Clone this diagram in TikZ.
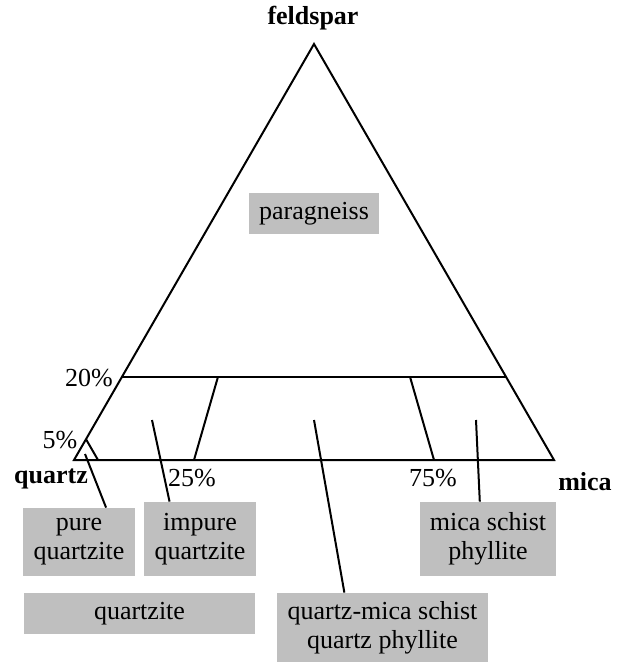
\documentclass[tikz,border=0pt]{standalone}
\usepackage{fontspec}
\setmainfont{Liberation Serif}
\usetikzlibrary{calc,positioning}
\definecolor{rockgray}{RGB}{191,191,191}
\tikzset{
  rockbox/.style={fill=rockgray, align=center, inner sep=0pt, font=\fontsize{13}{14.5}\selectfont},
  edge/.style={line width=1pt},
  corner/.style={font=\fontsize{13}{15}\selectfont\bfseries},
  pct/.style={font=\fontsize{13}{15}\selectfont}
}

\begin{document}
\begin{tikzpicture}[x=0.5pt,y=-0.5pt]
    \useasboundingbox (0,0) rectangle (627,663);

    % Corners
    \coordinate (qz) at (74,460);
    \coordinate (mc) at (554,460);
    \coordinate (fs) at (314,44);
    \node[corner] (feldspar) at (313,18) {feldspar};
    \node[corner] (quartz) at (51,479) {quartz};
    \node[corner] (mica) at (585,482) {mica};

    % Triangle and field boundaries
    \draw[edge] (qz) -- (mc) -- (fs) -- cycle;
    \coordinate (l20) at ($(qz)!0.2!(fs)$);
    \coordinate (r20) at ($(mc)!0.2!(fs)$);
    \draw[edge] (l20) -- (r20);
    \coordinate (l5) at ($(qz)!0.05!(fs)$);
    \coordinate (b5) at ($(qz)!0.05!(mc)$);
    \draw[edge] (l5) -- (b5);
    \coordinate (b25) at ($(qz)!0.25!(mc)$);
    \coordinate (b75) at ($(qz)!0.75!(mc)$);
    \draw[edge] (b25) -- ($(b25)!0.2!(fs)$);
    \draw[edge] (b75) -- ($(b75)!0.2!(fs)$);

    % Percent labels
    \node[pct] (p20) at (89,378) {20\%};
    \node[pct] (p5) at (60,440) {5\%};
    \node[pct] (p25) at (192,478) {25\%};
    \node[pct] (p75) at (433,478) {75\%};

    % Rock names
    \node[rockbox, minimum width=65pt, minimum height=20.5pt] (paragneiss) at (314,213.5) {paragneiss};
    \node[rockbox, minimum width=56pt, minimum height=34pt] (pure) at (79,542) {pure\\quartzite};
    \node[rockbox, minimum width=56pt, minimum height=37pt] (impure) at (200,539) {impure\\quartzite};
    \node[rockbox, minimum width=115.5pt, minimum height=20.5pt] (quartzite) at (139.5,613.5) {quartzite};
    \node[rockbox, minimum width=105.5pt, minimum height=34.5pt] (qmica) at (382.5,627.5) {quartz-mica schist\\quartz phyllite};
    \node[rockbox, minimum width=68pt, minimum height=37pt] (micaschist) at (488,539) {mica schist\\phyllite};

    % Pointers from fields to names
    \coordinate (fpure) at (85,454);
    \coordinate (fimpure) at (152,420);
    \coordinate (fqmica) at (314,420);
    \coordinate (fmica) at (476,420);
    \draw[edge] (fpure) -- ($(pure.north west)!0.74!(pure.north east)$);
    \draw[edge] (fimpure) -- ($(impure.north west)!0.23!(impure.north east)$);
    \draw[edge] (fqmica) -- ($(qmica.north west)!0.32!(qmica.north east)$);
    \draw[edge] (fmica) -- ($(micaschist.north west)!0.44!(micaschist.north east)$);
\end{tikzpicture}
\end{document}
